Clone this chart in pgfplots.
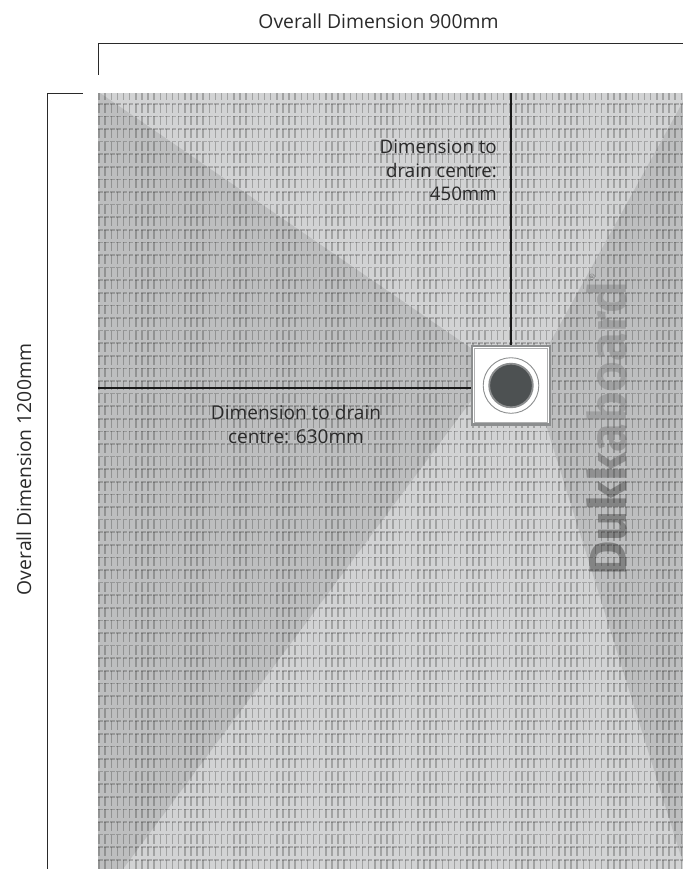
\documentclass[border=0pt]{standalone}
\usepackage{pgfplots}
\pgfplotsset{compat=1.18}
\usepackage{fontspec}
\setmainfont{Open Sans}
\newfontfamily\wm{Fira Sans}
\definecolor{boardlight}{HTML}{D2D3D4}
\definecolor{boardwedge}{HTML}{BDBEBF}
\definecolor{ink}{HTML}{2A2A2A}
\definecolor{drainrim}{HTML}{8C8E8F}
\definecolor{draindark}{HTML}{4D5152}
\begin{document}
\begin{tikzpicture}
\begin{axis}[x=1bp,y=1bp,xmin=0,xmax=683,ymin=0,ymax=869,y dir=reverse,hide axis,
  scale only axis,clip=true,cycle list={{black}},every axis plot/.append style={forget plot,mark=none}]
% page
\addplot[fill=white,draw=none] coordinates {(0,0)(683,0)(683,869)(0,869)} -- cycle;
% board
\addplot[fill=boardlight,draw=none] coordinates {(98,93)(683,93)(683,869)(98,869)} -- cycle;
% wedges
\addplot[fill=boardwedge,draw=none] coordinates {(98,93)(100,93)(497,366)(123,869)(98,869)} -- cycle;
\addplot[fill=boardwedge,draw=none] coordinates {(683,101.6)(531,377)(683,862.7)} -- cycle;
% tile texture: vertical strokes
\pgfplotsinvokeforeach{99,105.13,...,683}{
  \addplot[black,opacity=.23,line width=1.5bp,dash pattern=on 9bp off 3.6bp,dash phase=1.9bp] coordinates {(#1,93)(#1,869)};
}
% tile texture: horizontal strokes
\pgfplotsinvokeforeach{103.7,116.3,...,869}{
  \addplot[black,opacity=.2,line width=1.6bp,dash pattern=on 4.7bp off 1.43bp] coordinates {(98,#1)(683,#1)};
}
% dimension lines
\addplot[black!90,line width=1.7bp] coordinates {(511,93)(511,348)};
\addplot[black!90,line width=1.8bp] coordinates {(98,387.7)(472,387.7)};
% brackets
\addplot[ink,line width=1bp] coordinates {(98.5,74.5)(98.5,43.8)(683,43.8)};
\addplot[ink,line width=1bp] coordinates {(82.5,93.5)(47.3,93.5)(47.3,869)};
% drain
\addplot[fill=white,draw=drainrim,line width=2.4bp] coordinates {(472.2,346.2)(549.8,346.2)(549.8,424.6)(472.2,424.6)} -- cycle;
\addplot[draw=drainrim!70,line width=.8bp] coordinates {(474.5,348.5)(547.5,348.5)(547.5,422.3)(474.5,422.3)} -- cycle;
\node[circle,draw=drainrim,line width=.9bp,fill=white,minimum size=55.6bp,inner sep=0pt] at (axis cs:511,385.5) {};
\node[circle,draw=drainrim,line width=1.8bp,fill=draindark,minimum size=43.6bp,inner sep=0pt] at (axis cs:511,385.5) {};
% watermark
\node[rotate=90,anchor=south,inner sep=0pt,text opacity=.38,font={\wm\bfseries\fontsize{53}{53}\selectfont}] at (axis cs:628,428.5)
 {{\color{black!85}Duk}{\color{black!72}k}{\color{black!62}a}{\color{black!55}board}};
\node[text opacity=.35,font=\fontsize{8}{8}\selectfont,rotate=90,inner sep=0pt] at (axis cs:592,277) {®};
% text
\node[text=ink,font=\fontsize{19.4}{22}\selectfont,inner sep=0pt] at (axis cs:378.5,21) {Overall Dimension 900mm};
\node[text=ink,font=\fontsize{19.4}{22}\selectfont,inner sep=0pt,rotate=90] at (axis cs:24,469.5) {Overall Dimension 1200mm};
\node[text=ink,font=\fontsize{18.8}{23.5}\selectfont,inner sep=0pt,align=right,anchor=north east] at (axis cs:497,140) {Dimension to\\drain centre:\\450mm};
\node[text=ink,font=\fontsize{19.1}{23.5}\selectfont,inner sep=0pt,align=center,anchor=north] at (axis cs:296,405) {Dimension to drain\\centre: 630mm};
\end{axis}
\end{tikzpicture}
\end{document}
